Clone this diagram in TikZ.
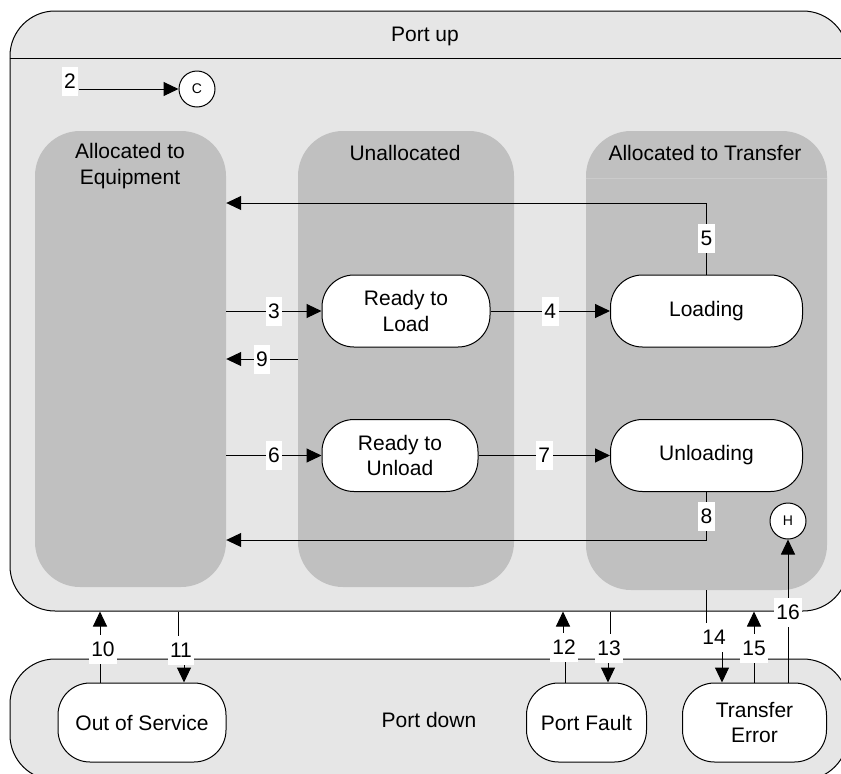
\documentclass[tikz,border=0pt]{standalone}
\usepackage{fontspec}
\setmainfont{Liberation Sans}
\usetikzlibrary{arrows.meta,calc}
\definecolor{panel}{HTML}{E6E6E6}
\definecolor{lane}{HTML}{C0C0C0}
\definecolor{laneline}{HTML}{CBCBCB}
\tikzset{
  txt/.style={font=\fontsize{21}{25.5}\selectfont},
  panelbox/.style={draw=black, line width=1pt, fill=panel, rounded corners=45pt, inner sep=0pt},
  lanebox/.style={fill=lane, rounded corners=45pt, inner sep=0pt},
  statebox/.style={draw=black, line width=1pt, fill=white, rounded corners=32pt,
    inner sep=0pt, align=center, txt},
  pseudo/.style={draw=black, line width=1pt, fill=white, circle, minimum size=36pt,
    inner sep=0pt, font=\fontsize{14}{16}\selectfont},
  arr/.style={line width=1pt, -{Triangle[length=15pt,width=14pt]}},
  lbl/.style={fill=white, inner xsep=2.5pt, inner ysep=3pt, text height=18.5pt,
    text depth=4.5pt, txt},
}
\begin{document}
\begin{tikzpicture}[x=1pt,y=-1pt]
\useasboundingbox (0,0) rectangle (841,774);
\clip (0,0) rectangle (841,774);

% outer superstate "Port up"
\node[panelbox, minimum width=838pt, minimum height=600pt] (portup) at (429,311) {};
\draw[line width=1pt] ($(portup.north west)+(0,48)$) -- ($(portup.north east)+(0,48)$);
\node[txt] (portuptitle) at (425,36) {Port up};

% swimlanes
\node[lanebox, minimum width=191pt, minimum height=456pt] (laneEq) at (130.5,359) {};
\node[lanebox, minimum width=216pt, minimum height=456pt] (laneUn) at (406,359) {};
\node[lanebox, minimum width=241pt, minimum height=459pt] (laneTr) at (706.5,360.5) {};
\draw[laneline, line width=1pt] ($(laneTr.north west)+(0,48)$) -- ($(laneTr.north east)+(0,48)$);
\node[txt, align=center] (tEq) at (130,166) {Allocated to\\Equipment};
\node[txt] (tUn) at (405,153) {Unallocated};
\node[txt] (tTr) at (705,153) {Allocated to Transfer};

% superstate "Port down"
\node[panelbox, minimum width=838pt, minimum height=121pt, txt] (portdown) at (429,719.5) {Port down};

% states
\node[statebox, minimum width=168pt, minimum height=72pt] (rtl) at (406,311) {Ready to\\Load};
\node[statebox, minimum width=156pt, minimum height=72pt] (rtu) at (400,455.5) {Ready to\\Unload};
\node[statebox, minimum width=192pt, minimum height=72pt] (load) at (706.5,311) {Loading};
\node[statebox, minimum width=192pt, minimum height=72pt] (unload) at (706.5,455.5) {Unloading};
\node[statebox, minimum width=168pt, minimum height=79pt] (oos) at (142,722.5) {Out of Service};
\node[statebox, minimum width=120pt, minimum height=79pt] (pf) at (586.5,722.5) {Port Fault};
\node[statebox, minimum width=144pt, minimum height=79pt] (te) at (754.5,722.5) {Transfer\\Error};

% pseudo states
\node[pseudo] (cc) at (197,89) {C};
\node[pseudo] (hh) at (788,521) {H};

% helper coordinates for connector routes
\coordinate (y5) at (0,203);
\coordinate (y8) at (0,540);
\coordinate (y9) at (0,359);
\coordinate (x10) at (100,0);
\coordinate (x11a) at (178,0);
\coordinate (x11b) at (184,0);
\coordinate (x12a) at (563,0);
\coordinate (x12b) at (565,0);
\coordinate (x13a) at (610,0);
\coordinate (x13b) at (608,0);
\coordinate (x14a) at (706,0);
\coordinate (x14b) at (722,0);
\coordinate (x15) at (754,0);
\coordinate (x16) at (788,0);

% transitions inside "Port up"
\node[lbl] (l2) at (70,81.5) {2};
\draw[arr] (l2.east |- cc) -- (cc);
\draw[arr] (laneEq.east |- rtl.west) -- node[lbl]{3} (rtl.west);
\draw[arr] (rtl.east) -- node[lbl]{4} (load.west);
\draw[arr] (load.north) |- node[lbl, pos=0.25]{5} (laneEq.east |- y5);
\draw[arr] (laneEq.east |- rtu.west) -- node[lbl]{6} (rtu.west);
\draw[arr] (rtu.east) -- node[lbl]{7} (unload.west);
\draw[arr] (unload.south) |- node[lbl, pos=0.25]{8} (laneEq.east |- y8);
\draw[arr] (laneUn.west |- y9) -- node[lbl]{9} (laneEq.east |- y9);

% transitions between "Port up" and "Port down"
\draw[arr] (oos.north -| x10) -- node[lbl, pos=0.46, xshift=3pt]{10} (portup.south -| x10);
\draw[arr] (portup.south -| x11a) -- ++(0,39) -- node[lbl]{11} ++(6,0) -- (oos.north -| x11b);
\draw[arr] (pf.north -| x12b) -- ++(0,-35) -- node[lbl]{12} ++(-2,0) -- (portup.south -| x12a);
\draw[arr] (portup.south -| x13a) -- ++(0,37) -- node[lbl]{13} ++(-2,0) -- (pf.north -| x13b);
\draw[arr] (laneTr.south -| x14a) -- ++(0,47) -- node[lbl]{14} ++(16,0) -- (te.north -| x14b);
\draw[arr] (te.north -| x15) -- node[lbl, pos=0.486]{15} (portup.south -| x15);
\draw[arr] (te.north -| x16) -- node[lbl, pos=0.493]{16} (hh.south);
\end{tikzpicture}
\end{document}
